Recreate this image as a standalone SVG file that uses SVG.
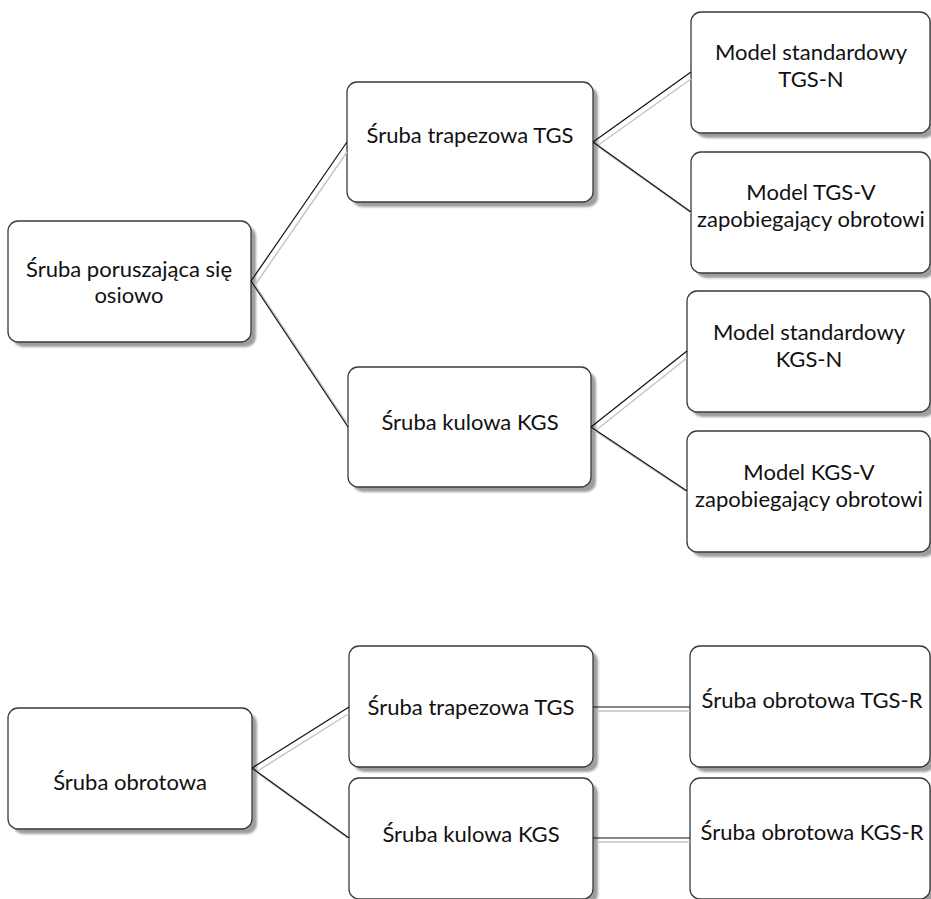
<svg xmlns="http://www.w3.org/2000/svg" width="931" height="899" viewBox="0 0 931 899">
  <defs>
    <style>
      .sh { fill: #9e9e9e; }
      .box { fill: #ffffff; stroke: #3a3a3a; stroke-width: 1.3; }
      .t { font-family: Lato, "Noto Sans", "Liberation Sans", sans-serif; font-size: 22px; fill: #111111; text-anchor: middle; }
      .ln { stroke: #111111; stroke-width: 1.2; fill: none; }
      .lns { stroke: #c4c4c4; stroke-width: 1.4; fill: none; }
    </style>
    <filter id="blur" x="-5%" y="-5%" width="110%" height="110%">
      <feGaussianBlur stdDeviation="0.8"/>
    </filter>
  </defs>
  <rect x="0" y="0" width="931" height="899" fill="#ffffff"/>

  <g id="node-a">
    <rect class="sh" x="13" y="226" width="243" height="121" rx="10" filter="url(#blur)"/>
    <rect class="box" x="8" y="221" width="243" height="121" rx="10"/>
    <text class="t" x="129" y="277">Śruba poruszająca się</text>
    <text class="t" x="129" y="303">osiowo</text>
  </g>
  <g id="node-b">
    <rect class="sh" x="352" y="87" width="246" height="120" rx="10" filter="url(#blur)"/>
    <rect class="box" x="347" y="82" width="246" height="120" rx="10"/>
    <text class="t" x="470" y="143">Śruba trapezowa TGS</text>
  </g>
  <g id="node-c">
    <rect class="sh" x="353" y="372" width="243" height="120" rx="10" filter="url(#blur)"/>
    <rect class="box" x="348" y="367" width="243" height="120" rx="10"/>
    <text class="t" x="470" y="430">Śruba kulowa KGS</text>
  </g>
  <g id="node-d">
    <rect class="sh" x="696" y="17" width="239" height="121" rx="10" filter="url(#blur)"/>
    <rect class="box" x="691" y="12" width="239" height="121" rx="10"/>
    <text class="t" x="811" y="60">Model standardowy</text>
    <text class="t" x="811" y="87">TGS-N</text>
  </g>
  <g id="node-e">
    <rect class="sh" x="696" y="157" width="239" height="121" rx="10" filter="url(#blur)"/>
    <rect class="box" x="691" y="152" width="239" height="121" rx="10"/>
    <text class="t" x="811" y="200">Model TGS-V</text>
    <text class="t" x="811" y="227">zapobiegający obrotowi</text>
  </g>
  <g id="node-f">
    <rect class="sh" x="692" y="296" width="243" height="121" rx="10" filter="url(#blur)"/>
    <rect class="box" x="687" y="291" width="243" height="121" rx="10"/>
    <text class="t" x="809" y="340">Model standardowy</text>
    <text class="t" x="809" y="367">KGS-N</text>
  </g>
  <g id="node-g">
    <rect class="sh" x="692" y="436" width="243" height="121" rx="10" filter="url(#blur)"/>
    <rect class="box" x="687" y="431" width="243" height="121" rx="10"/>
    <text class="t" x="809" y="480">Model KGS-V</text>
    <text class="t" x="809" y="507">zapobiegający obrotowi</text>
  </g>
  <g id="node-h">
    <rect class="sh" x="13" y="713" width="244" height="121" rx="10" filter="url(#blur)"/>
    <rect class="box" x="8" y="708" width="244" height="121" rx="10"/>
    <text class="t" x="130" y="790">Śruba obrotowa</text>
  </g>
  <g id="node-i">
    <rect class="sh" x="354" y="651" width="244" height="121" rx="10" filter="url(#blur)"/>
    <rect class="box" x="349" y="646" width="244" height="121" rx="10"/>
    <text class="t" x="471" y="715">Śruba trapezowa TGS</text>
  </g>
  <g id="node-j">
    <rect class="sh" x="354" y="783" width="244" height="121" rx="10" filter="url(#blur)"/>
    <rect class="box" x="349" y="778" width="244" height="121" rx="10"/>
    <text class="t" x="471" y="842">Śruba kulowa KGS</text>
  </g>
  <g id="node-k">
    <rect class="sh" x="695" y="651" width="240" height="121" rx="10" filter="url(#blur)"/>
    <rect class="box" x="690" y="646" width="240" height="121" rx="10"/>
    <text class="t" x="812" y="708">Śruba obrotowa TGS-R</text>
  </g>
  <g id="node-l">
    <rect class="sh" x="695" y="783" width="240" height="121" rx="10" filter="url(#blur)"/>
    <rect class="box" x="690" y="778" width="240" height="121" rx="10"/>
    <text class="t" x="812" y="840">Śruba obrotowa KGS-R</text>
  </g>

  <g id="connectors">
    <line class="lns" x1="255" y1="285" x2="347" y2="152"/>
    <line class="lns" x1="255" y1="285" x2="348" y2="425"/>
    <line class="lns" x1="597" y1="146" x2="691" y2="79"/>
    <line class="lns" x1="597" y1="146" x2="691" y2="213"/>
    <line class="lns" x1="595" y1="431" x2="687" y2="358"/>
    <line class="lns" x1="595" y1="431" x2="687" y2="492"/>
    <line class="lns" x1="256" y1="772" x2="349" y2="713.5"/>
    <line class="lns" x1="256" y1="772" x2="349" y2="839"/>
    <line class="lns" x1="597" y1="711" x2="690" y2="711"/>
    <line class="lns" x1="597" y1="842" x2="690" y2="842"/>

    <line class="ln" x1="251" y1="281" x2="347" y2="142"/>
    <line class="ln" x1="251" y1="281" x2="348" y2="427"/>
    <line class="ln" x1="593" y1="142" x2="691" y2="72"/>
    <line class="ln" x1="593" y1="142" x2="691" y2="212"/>
    <line class="ln" x1="591" y1="427" x2="687" y2="351"/>
    <line class="ln" x1="591" y1="427" x2="687" y2="491"/>
    <line class="ln" x1="252" y1="768" x2="349" y2="707"/>
    <line class="ln" x1="252" y1="768" x2="349" y2="838"/>
    <line class="ln" x1="593" y1="707" x2="690" y2="707"/>
    <line class="ln" x1="593" y1="838" x2="690" y2="838"/>
  </g>
</svg>
